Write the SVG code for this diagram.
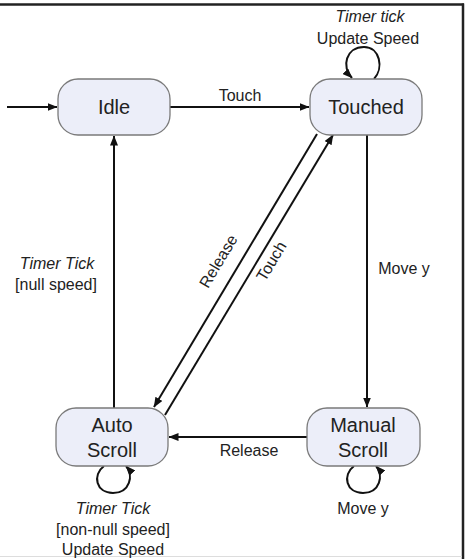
<svg xmlns="http://www.w3.org/2000/svg" width="466" height="559" viewBox="0 0 466 559">
<defs>
<marker id="ah" markerWidth="10" markerHeight="8" refX="9.5" refY="4" orient="auto" markerUnits="userSpaceOnUse">
<path d="M0,0 L10,4 L0,8 Z" fill="#111"/>
</marker>
<style>
.node rect{fill:#eceef9;stroke:#7a7a7a;stroke-width:1.3}
.node text{font-family:"Liberation Sans",Arial,sans-serif;font-size:20px;fill:#222;text-anchor:middle}
.lbl{font-family:"Liberation Sans",Arial,sans-serif;font-size:16px;fill:#222;text-anchor:middle}
.it{font-style:italic}
#edges path,#edges line{stroke:#111;stroke-width:2;fill:none}
</style>
</defs>
<rect x="0" y="0" width="466" height="559" fill="#fff"/>
<line x1="0" y1="4.5" x2="464" y2="4.5" stroke="#222" stroke-width="2.5"/>
<line x1="463" y1="3.5" x2="463" y2="559" stroke="#222" stroke-width="2.5"/>
<line x1="0" y1="556.5" x2="462" y2="556.5" stroke="#ddd" stroke-width="1"/>

<g id="edges">
<line x1="7" y1="107" x2="57" y2="107" marker-end="url(#ah)"/>
<line x1="170" y1="107" x2="309" y2="107" marker-end="url(#ah)"/>
<path d="M374,79 C384,68 380,47 364,47 C346,47 341,67 352,78" marker-end="url(#ah)"/>
<line x1="367" y1="135" x2="367" y2="407" marker-end="url(#ah)"/>
<line x1="114" y1="408" x2="114" y2="136" marker-end="url(#ah)"/>
<line x1="317" y1="134" x2="154" y2="407" marker-end="url(#ah)"/>
<line x1="165" y1="415" x2="333" y2="135" marker-end="url(#ah)"/>
<line x1="307" y1="437" x2="169" y2="437" marker-end="url(#ah)"/>
<path d="M104,466 C92,475 96,493 113,493 C130,493 134,475 126,466" marker-end="url(#ah)"/>
<path d="M354,466 C342,475 346,493 363,493 C380,493 384,475 376,466" marker-end="url(#ah)"/>
</g>

<g id="idle" class="node"><rect x="58" y="79" width="112" height="56" rx="20"/><text x="114" y="114">Idle</text></g>
<g id="touched" class="node"><rect x="310" y="79" width="112" height="56" rx="20"/><text x="366" y="114">Touched</text></g>
<g id="autoscroll" class="node"><rect x="56" y="408" width="112" height="58" rx="20"/><text x="112" y="432">Auto</text><text x="112" y="457">Scroll</text></g>
<g id="manualscroll" class="node"><rect x="307" y="408" width="113" height="58" rx="20"/><text x="363" y="432">Manual</text><text x="363" y="457">Scroll</text></g>

<g id="labels">
<text class="lbl it" x="370" y="22">Timer tick</text>
<text class="lbl" x="368" y="44">Update Speed</text>
<text class="lbl" x="240" y="101">Touch</text>
<text class="lbl" x="404" y="274">Move y</text>
<text class="lbl it" x="57" y="269">Timer Tick</text>
<text class="lbl" x="56" y="290">[null speed]</text>
<text class="lbl" transform="translate(223,264) rotate(-59)">Release</text>
<text class="lbl" transform="translate(276,264) rotate(-59)">Touch</text>
<text class="lbl" x="249" y="456">Release</text>
<text class="lbl it" x="113" y="514">Timer Tick</text>
<text class="lbl" x="113" y="535">[non-null speed]</text>
<text class="lbl" x="113" y="555">Update Speed</text>
<text class="lbl" x="363" y="514">Move y</text>
</g>
</svg>
